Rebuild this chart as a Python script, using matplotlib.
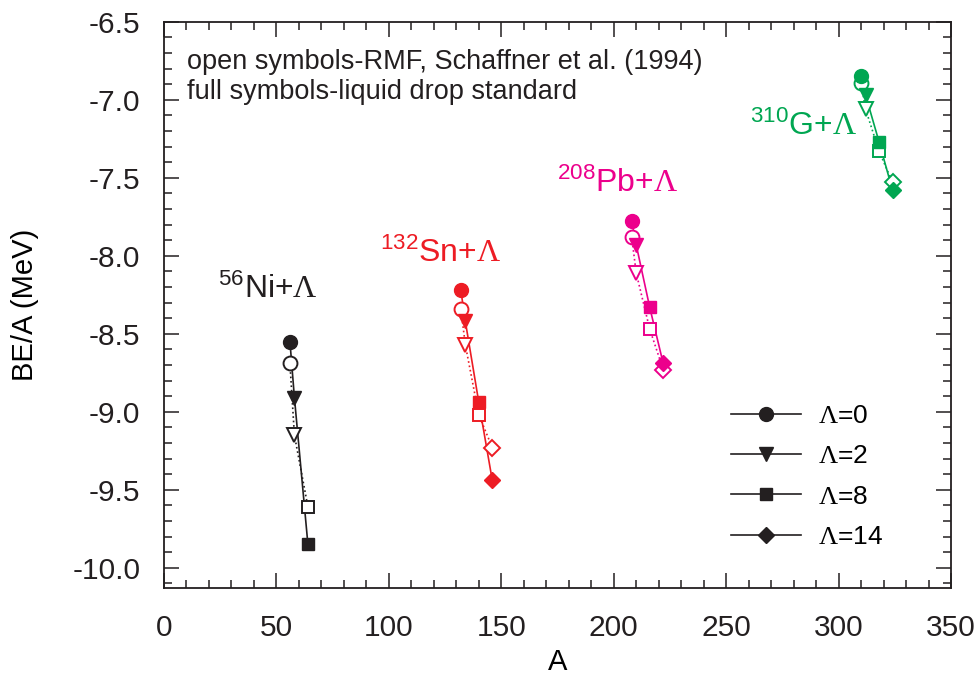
import matplotlib
matplotlib.use("Agg")
import matplotlib.pyplot as plt
from matplotlib.ticker import MultipleLocator
from matplotlib.lines import Line2D

plt.rcParams['font.family'] = ['Liberation Sans', 'DejaVu Sans']
plt.rcParams['mathtext.fontset'] = 'custom'
plt.rcParams['mathtext.rm'] = 'Liberation Sans'
plt.rcParams['mathtext.sf'] = 'Liberation Serif'
plt.rcParams['mathtext.it'] = 'Liberation Sans:italic'

# number of Lambdas per point
n_lambda = [0, 2, 8, 14]
markers = ['o', 'v', 's', 'D']
msizes = [10, 10, 9, 8.5]

# 56Ni + Lambda
ni_A_full = [56, 58, 64]
ni_be_full = [-8.55, -8.91, -9.85]
ni_A_open = [56, 58, 64]
ni_be_open = [-8.69, -9.15, -9.61]

# 132Sn + Lambda
sn_A_full = [132, 134, 140, 146]
sn_be_full = [-8.22, -8.42, -8.94, -9.44]
sn_A_open = [132, 134, 140, 146]
sn_be_open = [-8.34, -8.57, -9.02, -9.23]

# 208Pb + Lambda
pb_A_full = [208, 210, 216, 222]
pb_be_full = [-7.78, -7.93, -8.33, -8.69]
pb_A_open = [208, 210, 216, 222]
pb_be_open = [-7.88, -8.11, -8.47, -8.73]

# 310G + Lambda
g_A_full = [310, 312, 318, 324]
g_be_full = [-6.85, -6.97, -7.27, -7.58]
g_A_open = [310, 312, 318, 324]
g_be_open = [-6.89, -7.06, -7.33, -7.53]

series = [
    (ni_A_full, ni_be_full, ni_A_open, ni_be_open, '#231f20', r'$^{56}$Ni+$\mathsf{\Lambda}$', (218, 298)),
    (sn_A_full, sn_be_full, sn_A_open, sn_be_open, '#ed1c24', r'$^{132}$Sn+$\mathsf{\Lambda}$', (380, 262)),
    (pb_A_full, pb_be_full, pb_A_open, pb_be_open, '#ec008c', r'$^{208}$Pb+$\mathsf{\Lambda}$', (557, 192)),
    (g_A_full, g_be_full, g_A_open, g_be_open, '#00a651', r'$^{310}$G+$\mathsf{\Lambda}$', (750, 135)),
]

fig = plt.figure(figsize=(9.8, 6.77), dpi=100)
ax = fig.add_axes([164 / 980, 89 / 677, 787 / 980, 566.3 / 677])

for A_f, be_f, A_o, be_o, col, lab, (lx, ly) in series:
    ax.plot(A_o, be_o, ':', color=col, lw=1.2, zorder=2)
    ax.plot(A_f, be_f, '-', color=col, lw=1.2, zorder=2)
    for i in range(len(A_f)):
        ax.plot(A_o[i], be_o[i], markers[i], ms=msizes[i],
                mfc='white', mec=col, mew=1.4, zorder=3)
        ax.plot(A_f[i], be_f[i], markers[i], ms=msizes[i],
                mfc=col, mec=col, mew=1.0, zorder=4)
    # label: left/baseline position in pixels
    fig.text(lx / 980, 1 - ly / 677, lab, color=col, fontsize=23, ha='left', va='baseline')

ax.set_xlim(0, 350)
ax.set_ylim(-10.13, -6.5)
ax.xaxis.set_major_locator(MultipleLocator(50))
ax.xaxis.set_minor_locator(MultipleLocator(10))
ax.yaxis.set_major_locator(MultipleLocator(0.5))
ax.yaxis.set_minor_locator(MultipleLocator(0.1))
ax.yaxis.set_major_formatter(plt.FuncFormatter(lambda v, p: f"{v:.1f}"))
ax.tick_params(which='both', direction='in', top=True, right=True, width=1.1,
               labelsize=21.5, colors='#231f20')
ax.tick_params(which='major', length=11)
ax.tick_params(which='minor', length=6)
ax.tick_params(axis='x', which='major', pad=19)
ax.tick_params(axis='y', which='major', pad=17)
for s in ax.spines.values():
    s.set_linewidth(1.3)
    s.set_color('#231f20')

ax.set_xlabel('A', fontsize=21, labelpad=4)
ax.set_ylabel('BE/A (MeV)', fontsize=21, labelpad=24)

ax.text(0.029, 0.928, 'open symbols-RMF, Schaffner et al. (1994)', transform=ax.transAxes,
        fontsize=19.5, va='center', color='#231f20')
ax.text(0.029, 0.876, 'full symbols-liquid drop standard', transform=ax.transAxes,
        fontsize=19.5, va='center', color='#231f20')

handles = [Line2D([], [], color='#231f20', lw=1.2, marker=m, ms=s)
           for m, s in zip(markers, msizes)]
labels = [r'$\mathsf{\Lambda}$=%d' % n for n in n_lambda]
ax.legend(handles, labels, loc='upper left', bbox_to_anchor=(0.72, 0.325), frameon=False,
          borderpad=0, borderaxespad=0, fontsize=19, handlelength=2.65,
          handletextpad=0.65, labelspacing=0.62)

fig.savefig('out.png', dpi=100)
